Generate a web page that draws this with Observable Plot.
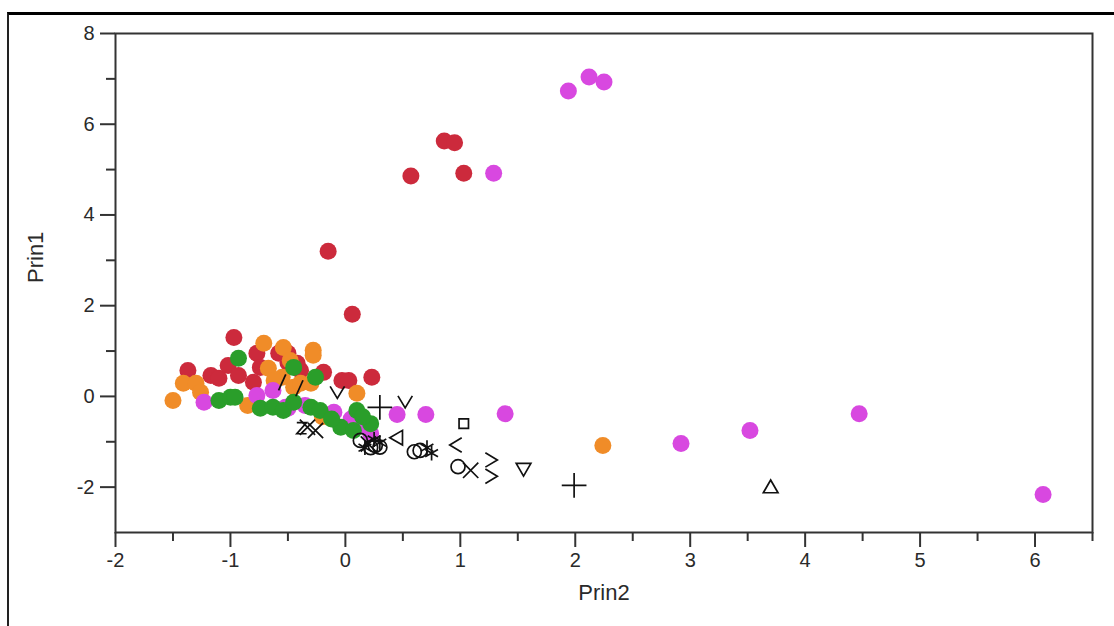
<!DOCTYPE html>
<html>
<head>
<meta charset="utf-8">
<script src="https://cdn.jsdelivr.net/npm/d3@7"></script>
<script src="https://cdn.jsdelivr.net/npm/@observablehq/plot@0.6"></script>
<style>
  html, body { margin: 0; padding: 0; background: #fff; }
  #wrap { position: relative; width: 1114px; height: 626px; overflow: hidden; }
  #outer { position: absolute; left: 7px; top: 12px; right: -4px; bottom: -4px;
           border-top: 3px solid #000; border-left: 2px solid #222; }
  #chart { position: absolute; left: 0; top: 0; }
</style>
</head>
<body>
<div id="wrap"><div id="outer"></div><div id="chart"></div></div>
<script>
// ---- data (Prin2 = x, Prin1 = y) ----
const redPts = [[0.57,4.86],[0.86,5.63],[0.95,5.59],[1.03,4.92],[-0.15,3.20],[0.06,1.81],[-0.97,1.30],
  [-1.37,0.57],[-1.17,0.46],[-1.10,0.40],[-1.02,0.68],[-0.93,0.46],[-0.80,0.31],[-0.77,0.95],[-0.74,0.64],
  [-0.58,0.95],[-0.50,0.75],[-0.50,0.95],[-0.42,0.73],[-0.39,0.57],[-0.19,0.53],[-0.03,0.35],[0.03,0.35],[0.23,0.42]];
const orangePts = [[2.24,-1.08],[-0.71,1.17],[-0.54,1.08],[-0.28,1.02],[-0.28,0.91],[-1.41,0.29],[-1.50,-0.09],
  [-1.30,0.29],[-1.26,0.09],[-0.85,-0.20],[-0.67,0.62],[-0.55,0.42],[-0.48,0.79],[-0.45,0.20],[-0.39,0.29],
  [-0.30,0.29],[0.10,0.07],[-0.62,0.35],[-0.20,-0.45]];
const magentaPts = [[1.94,6.73],[2.12,7.04],[2.25,6.93],[1.29,4.92],[0.45,-0.40],[0.70,-0.40],[1.39,-0.38],
  [2.92,-1.04],[3.52,-0.75],[4.47,-0.38],[6.07,-2.16],[-1.23,-0.13],[-0.77,0.02],[-0.63,0.13],[-0.52,-0.24],
  [-0.50,-0.26],[-0.10,-0.35],[0.16,-0.64],[0.22,-0.82],[-0.35,-0.20],[0.05,-0.50]];
const greenPts = [[-0.93,0.84],[-0.45,0.64],[-0.26,0.42],[-1.10,-0.09],[-1.00,-0.02],[-0.96,-0.02],[-0.74,-0.26],
  [-0.63,-0.24],[-0.54,-0.31],[-0.45,-0.13],[-0.30,-0.24],[-0.22,-0.31],[0.10,-0.31],[-0.04,-0.68],[0.07,-0.75],[0.22,-0.60],
  [-0.12,-0.50],[0.15,-0.45]];

const plusPts = [[1.99,-1.96],[0.30,-0.24]];
const triUpPts = [[3.70,-2.03]];
const triDownPts = [[1.55,-1.57]];
const triLeftPts = [[0.46,-0.91]];
const squarePts = [[1.03,-0.60]];
const circlePts = [[0.98,-1.55],[0.65,-1.19],[0.26,-1.08],[0.22,-1.13],[0.13,-0.97],[0.60,-1.22],[0.30,-1.12]];
const timesPts = [[1.09,-1.63],[-0.26,-0.75],[-0.33,-0.68],[0.20,-1.05]];
const asteriskPts = [[0.71,-1.13],[0.17,-1.13],[0.30,-1.02],[0.75,-1.25],[0.25,-0.95]];
const chevronRightPts = [[1.27,-1.40],[1.27,-1.76]];
const chevronLeftPts = [[0.96,-1.07]];
const chevronDownPts = [[-0.07,0.09],[0.52,-0.12]];
const slashPts = [[-0.55,0.31],[-0.40,0.18]];
const zedPts = [[-0.38,-0.70]];

const xMajor = [-2,-1,0,1,2,3,4,5,6];
const xMinor = [-1.5,-0.5,0.5,1.5,2.5,3.5,4.5,5.5,6.5];
const yMajor = [-2,0,2,4,6,8];
const yMinor = [-1,1,3,5,7];
const xTitle = "Prin2";
const yTitle = "Prin1";

const colors = {red: "#cc2a3c", orange: "#f08c28", magenta: "#d848e0", green: "#2a9e2a"};

// custom open-path marker shapes (JMP style markers)
const rOf = size => Math.sqrt(size / Math.PI);
const chevron = {draw(c, size) { const r = rOf(size); c.moveTo(-r * 0.75, -r * 0.9); c.lineTo(r * 0.75, 0); c.lineTo(-r * 0.75, r * 0.9); }};
const slash = {draw(c, size) { const r = rOf(size); c.moveTo(-r * 0.45, r); c.lineTo(r * 0.45, -r); }};
const zed = {draw(c, size) { const r = rOf(size); c.moveTo(-r * 0.7, -r * 0.8); c.lineTo(r * 0.7, -r * 0.8); c.lineTo(-r * 0.7, r * 0.8); c.lineTo(r * 0.7, r * 0.8); }};

const X = d => d[0], Y = d => d[1];
const dotOpts = (fill) => ({x: X, y: Y, r: 8.5, fill, stroke: "none"});
const symOpts = (symbol, extra = {}) => ({x: X, y: Y, r: 7, symbol, fill: "none", stroke: "#111", strokeWidth: 1.7, ...extra});

const chart = Plot.plot({
  width: 1114,
  height: 626,
  marginLeft: 115,
  marginRight: 22,
  marginTop: 33,
  marginBottom: 94,
  style: {fontFamily: "'Liberation Sans', Arial, Helvetica, sans-serif", fontSize: "20px", background: "transparent", color: "#2a2a2a"},
  x: {domain: [-2, 6.5]},
  y: {domain: [-3, 8]},
  marks: [
    Plot.axisX({ticks: xMinor, tickSize: 9, tickFormat: () => "", label: null, strokeWidth: 2, stroke: "#333"}),
    Plot.axisX({ticks: xMajor, tickSize: 15, tickPadding: 5, tickFormat: d => String(d), label: null, strokeWidth: 2, stroke: "#333", fontSize: 20}),
    Plot.axisY({ticks: yMinor, tickSize: 9, tickFormat: () => "", label: null, strokeWidth: 2, stroke: "#333"}),
    Plot.axisY({ticks: yMajor, tickSize: 15, tickPadding: 6, tickFormat: d => String(d), label: null, strokeWidth: 2, stroke: "#333", fontSize: 20}),
    Plot.frame({stroke: "#333", strokeWidth: 2}),
    Plot.text([xTitle], {frameAnchor: "bottom", dy: 67, fontSize: 22, fill: "#2a2a2a"}),
    Plot.text([yTitle], {frameAnchor: "left", dx: -80, rotate: -90, fontSize: 22, fill: "#2a2a2a"}),
    Plot.dot(redPts, dotOpts(colors.red)),
    Plot.dot(orangePts, dotOpts(colors.orange)),
    Plot.dot(magentaPts, dotOpts(colors.magenta)),
    Plot.dot(greenPts, dotOpts(colors.green)),
    Plot.dot(plusPts, symOpts("plus", {r: 8})),
    Plot.dot(triUpPts, symOpts("triangle2")),
    Plot.dot(triDownPts, symOpts("triangle2", {rotate: 180})),
    Plot.dot(triLeftPts, symOpts("triangle2", {rotate: -90})),
    Plot.dot(squarePts, symOpts("square2", {r: 6})),
    Plot.dot(circlePts, symOpts("circle")),
    Plot.dot(timesPts, symOpts("times")),
    Plot.dot(asteriskPts, symOpts("asterisk")),
    Plot.dot(chevronRightPts, symOpts(chevron, {r: 8})),
    Plot.dot(chevronLeftPts, symOpts(chevron, {r: 8, rotate: 180})),
    Plot.dot(chevronDownPts, symOpts(chevron, {r: 8, rotate: 90})),
    Plot.dot(slashPts, symOpts(slash, {r: 8})),
    Plot.dot(zedPts, symOpts(zed, {r: 7}))
  ]
});
document.getElementById("chart").appendChild(chart);
</script>
</body>
</html>
